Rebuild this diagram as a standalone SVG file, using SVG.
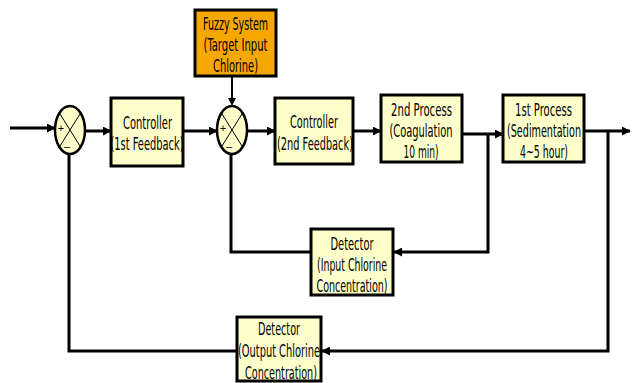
<svg xmlns="http://www.w3.org/2000/svg" width="636" height="383" viewBox="0 0 636 383">
<defs>
<style>
.box{fill:#FFFFCC;stroke:#000;stroke-width:3}
.fz{fill:#F6A800;stroke:#000;stroke-width:3}
.sum{fill:#FFFFCC;stroke:#000;stroke-width:2.5}
.x{stroke:#000;stroke-width:1;fill:none}
.t{font-family:"Liberation Sans Narrow","DejaVu Sans Condensed","Liberation Sans",sans-serif;font-size:17px;fill:#000;text-anchor:middle}
.s{font-family:"Liberation Sans",sans-serif;font-size:11px;fill:#000;text-anchor:middle}
.c{stroke:#000;stroke-width:3;fill:none}
.a{marker-end:url(#ah)}
</style>
<marker id="ah" viewBox="0 0 10 10" refX="9" refY="5" markerWidth="3" markerHeight="3" orient="auto" markerUnits="strokeWidth">
<path d="M0,0 L10,5 L0,10 z" fill="#000"/>
</marker>
</defs>
<rect width="636" height="383" fill="#fff"/>
<g id="connectors">
<path class="c a" d="M10,128 H55"/>
<path class="c a" d="M85,131 H111"/>
<path class="c a" d="M183,131 H217"/>
<path class="c a" d="M247,131 H275"/>
<path class="c a" d="M353,131 H381"/>
<path class="c a" d="M462,134 H503"/>
<path class="c a" d="M584,131 H630"/>
<path class="c" d="M232,77 V100" style="stroke-width:2"/>
<path d="M228,98 L236,98 L232,106 z" fill="#000"/>
<path class="c a" d="M488,134 V252 H394"/>
<path class="c" d="M311,252 H231 V154"/>
<path class="c a" d="M608,131 V351 H322"/>
<path class="c" d="M237,351 H69 V153"/>
</g>
<g id="sum1">
<ellipse class="sum" cx="70" cy="130" rx="15" ry="24"/>
<path class="x" d="M59.4,113 L80.6,147 M80.6,113 L59.4,147"/>
<text class="s" x="61" y="132">+</text>
<text class="s" x="67" y="150">–</text>
</g>
<g id="sum2">
<ellipse class="sum" cx="232" cy="130" rx="15" ry="24"/>
<path class="x" d="M221.4,113 L242.6,147 M242.6,113 L221.4,147"/>
<text class="s" x="223" y="132">+</text>
<text class="s" x="229" y="150">–</text>
</g>
<g id="fuzzy">
<rect class="fz" x="195" y="10" width="81" height="66"/>
<text class="t" x="235.5" y="30" textLength="65" lengthAdjust="spacingAndGlyphs">Fuzzy System</text>
<text class="t" x="235.5" y="51" textLength="64" lengthAdjust="spacingAndGlyphs">(Target Input</text>
<text class="t" x="235.5" y="72" textLength="45" lengthAdjust="spacingAndGlyphs">Chlorine)</text>
</g>
<g id="controller1">
<rect class="box" x="111" y="98" width="72" height="68"/>
<text class="t" x="147.5" y="129" textLength="49" lengthAdjust="spacingAndGlyphs">Controller</text>
<text class="t" x="147" y="150" textLength="73" lengthAdjust="spacingAndGlyphs">(1st Feedback)</text>
</g>
<g id="controller2">
<rect class="box" x="275" y="98" width="78" height="66"/>
<text class="t" x="314" y="128" textLength="48" lengthAdjust="spacingAndGlyphs">Controller</text>
<text class="t" x="315" y="150" textLength="76" lengthAdjust="spacingAndGlyphs">(2nd Feedback)</text>
</g>
<g id="process2">
<rect class="box" x="381" y="95" width="81" height="67"/>
<text class="t" x="421.5" y="116" textLength="61" lengthAdjust="spacingAndGlyphs">2nd Process</text>
<text class="t" x="421" y="137" textLength="63" lengthAdjust="spacingAndGlyphs">(Coagulation</text>
<text class="t" x="421" y="158" textLength="35" lengthAdjust="spacingAndGlyphs">10 min)</text>
</g>
<g id="process1">
<rect class="box" x="503" y="95" width="81" height="67"/>
<text class="t" x="543.5" y="116" textLength="57" lengthAdjust="spacingAndGlyphs">1st Process</text>
<text class="t" x="544" y="137" textLength="74" lengthAdjust="spacingAndGlyphs">(Sedimentation</text>
<text class="t" x="544" y="158" textLength="48" lengthAdjust="spacingAndGlyphs">4~5 hour)</text>
</g>
<g id="detector1">
<rect class="box" x="311" y="229" width="82" height="66"/>
<text class="t" x="352" y="250" textLength="43" lengthAdjust="spacingAndGlyphs">Detector</text>
<text class="t" x="352" y="271" textLength="70" lengthAdjust="spacingAndGlyphs">(Input Chlorine</text>
<text class="t" x="352" y="292" textLength="71" lengthAdjust="spacingAndGlyphs">Concentration)</text>
</g>
<g id="detector2">
<rect class="box" x="237" y="317" width="84" height="64"/>
<text class="t" x="279" y="335" textLength="42" lengthAdjust="spacingAndGlyphs">Detector</text>
<text class="t" x="279" y="357" textLength="82" lengthAdjust="spacingAndGlyphs">(Output Chlorine</text>
<text class="t" x="281" y="379" textLength="72" lengthAdjust="spacingAndGlyphs">Concentration)</text>
</g>
</svg>
